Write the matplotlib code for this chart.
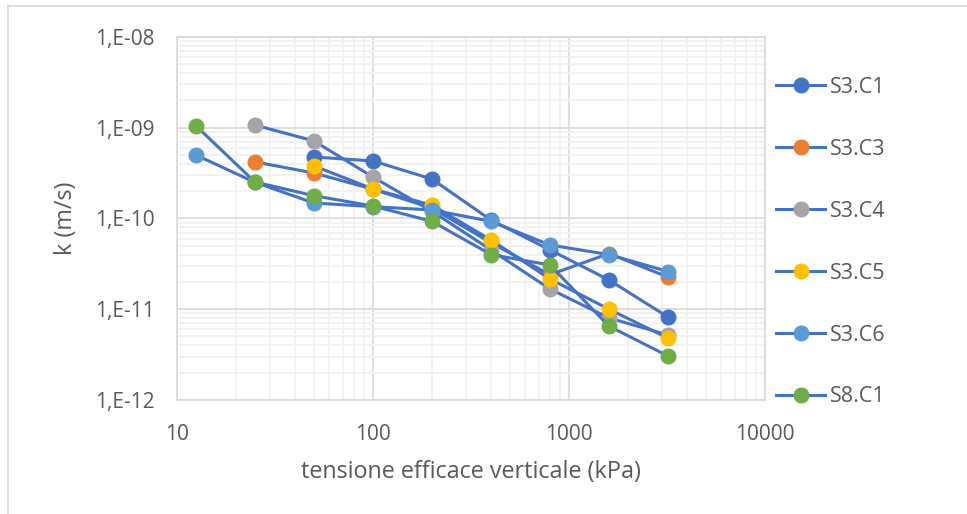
import matplotlib.pyplot as plt
import numpy as np
from matplotlib.ticker import FuncFormatter, LogLocator, NullFormatter
from matplotlib.lines import Line2D

plt.rcParams['font.family'] = ['Open Sans', 'DejaVu Sans']

# tensione efficace verticale (kPa)
x_all = [12.5, 25, 50, 100, 200, 400, 800, 1600, 3200]
x_from25 = x_all[1:]
x_from50 = x_all[2:]

s3c1 = [4.76e-10, 4.3e-10, 2.72e-10, 9.6e-11, 4.5e-11, 2.1e-11, 8.2e-12]
s3c3 = [4.2e-10, 3.17e-10, 2.1e-10, 1.3e-10, 5.4e-11, 2.4e-11, 4.1e-11, 2.26e-11]
s3c4 = [1.07e-9, 7.15e-10, 2.86e-10, 1.2e-10, 4.5e-11, 1.67e-11, 8.0e-12, 5.2e-12]
s3c5 = [3.8e-10, 2.11e-10, 1.4e-10, 5.8e-11, 2.15e-11, 1.0e-11, 4.8e-12]
s3c6 = [5.0e-10, 2.5e-10, 1.48e-10, 1.35e-10, 1.24e-10, 9.3e-11, 5.1e-11, 4.0e-11, 2.6e-11]
s8c1 = [1.05e-9, 2.52e-10, 1.78e-10, 1.37e-10, 9.3e-11, 4.0e-11, 3.07e-11, 6.5e-12, 3.05e-12]

series = [
    ("S3.C1", x_from50, s3c1, "#4472c4"),
    ("S3.C3", x_from25, s3c3, "#ed7d31"),
    ("S3.C4", x_from25, s3c4, "#a5a5a5"),
    ("S3.C5", x_from50, s3c5, "#ffc000"),
    ("S3.C6", x_all, s3c6, "#5b9bd5"),
    ("S8.C1", x_all, s8c1, "#70ad47"),
]

line_col = "#4472c4"
text_col = "#595959"

fig = plt.figure(figsize=(9.67, 5.14), dpi=100)
ax = fig.add_axes([0.183, 0.222, 0.608, 0.706])

for name, xs, ys, col in series:
    ax.plot(xs, ys, color=line_col, lw=2.2, marker='o', markersize=10.5,
            markerfacecolor=col, markeredgecolor=col, label=name, zorder=3)

ax.set_xscale('log')
ax.set_yscale('log')
ax.set_xlim(10, 10000)
ax.set_ylim(1e-12, 1e-8)

ax.xaxis.set_major_locator(LogLocator(base=10, numticks=10))
ax.xaxis.set_minor_locator(LogLocator(base=10, subs=np.arange(2, 10), numticks=10))
ax.yaxis.set_major_locator(LogLocator(base=10, numticks=10))
ax.yaxis.set_minor_locator(LogLocator(base=10, subs=np.arange(2, 10), numticks=10))
ax.xaxis.set_minor_formatter(NullFormatter())
ax.yaxis.set_minor_formatter(NullFormatter())
ax.xaxis.set_major_formatter(FuncFormatter(lambda v, p: f"{v:.0f}"))
ax.yaxis.set_major_formatter(FuncFormatter(lambda v, p: f"1,E-{int(round(-np.log10(v))):02d}"))

ax.grid(which='major', color='#d9d9d9', lw=1.2, zorder=0)
ax.grid(which='minor', color='#f0f0f0', lw=1.2, zorder=0)
ax.set_axisbelow(True)
for sp in ax.spines.values():
    sp.set_color('#d9d9d9')
    sp.set_linewidth(1.2)

ax.tick_params(which='both', length=0, colors=text_col, labelsize=15)
ax.tick_params(axis='y', pad=16)
ax.tick_params(axis='x', pad=17)
ax.set_xlabel("tensione efficace verticale (kPa)", color=text_col, fontsize=16.8, labelpad=11)
ax.set_ylabel("k (m/s)", color=text_col, fontsize=16.8, labelpad=12)

handles = [Line2D([], [], color=line_col, lw=2.2, marker='o', markersize=10.5,
                  markerfacecolor=c, markeredgecolor=c) for _, _, _, c in series]
fig.legend(handles, [s[0] for s in series], loc='upper left',
           bbox_to_anchor=(0.794, 0.867), frameon=False, fontsize=15.5,
           labelcolor=text_col, handlelength=2.25, handletextpad=0.25,
           labelspacing=1.9, borderaxespad=0)

# outer chart frame
fig.add_artist(Line2D([8 / 967, 1], [1 - 6 / 514, 1 - 6 / 514], color='#d9d9d9', lw=1.2))
fig.add_artist(Line2D([8 / 967, 8 / 967], [0, 1 - 6 / 514], color='#d9d9d9', lw=1.2))

fig.savefig("out.png", dpi=100)
